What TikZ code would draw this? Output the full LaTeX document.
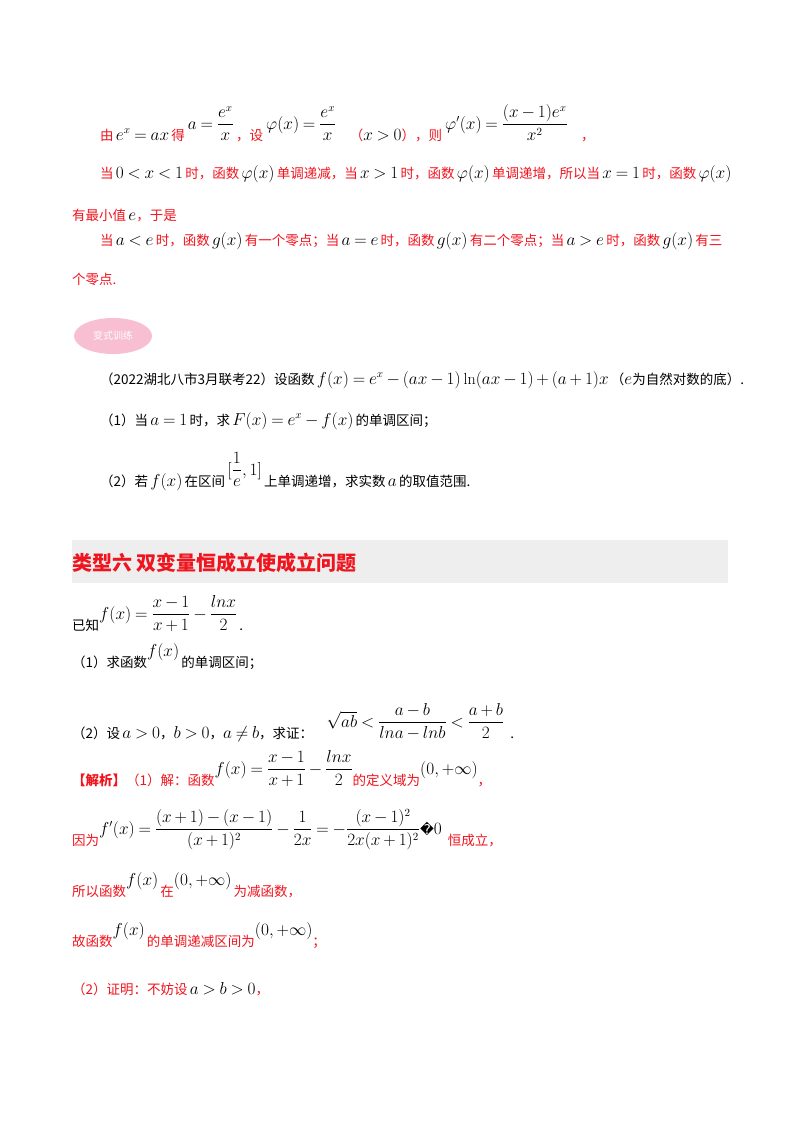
\documentclass[tikz,border=0pt]{standalone}
\usepackage{amsmath}
\usepackage{fontspec}
\usetikzlibrary{shapes.geometric}
\setmainfont{Noto Sans CJK SC}
\newfontfamily\dejavu{DejaVu Sans}
\newfontfamily\lmr{Latin Modern Roman}
\definecolor{redz}{RGB}{240,20,30}
\definecolor{barg}{RGB}{238,238,238}
\definecolor{pinkz}{RGB}{248,190,210}
\newcommand{\R}[1]{\textcolor{redz}{#1}}
\newcommand{\U}[1]{\raisebox{1.5ex}{#1}}
\newcommand{\M}[1]{{\fontsize{16}{18}\selectfont\medmuskip=3mu\thickmuskip=4mu$#1$}}
\newcommand{\lnz}{\mathop{\text{\lmr ln}}\nolimits}
\begin{document}
\begin{tikzpicture}[x=1pt,y=-1pt,
  ln/.style={anchor=base west,inner sep=0pt,font=\fontsize{13.5}{15}\selectfont}]
\useasboundingbox (0,0) rectangle (800,1132);
\fill[white] (0,0) rectangle (800,1132);
\node[ln] (l1) at (100,140) {\R{由}\,\M{e^x=ax}\,\R{得}\ \U{\M{a=\dfrac{e^x}{x}}}\,\R{，设}\ \U{\M{\varphi(x)=\dfrac{e^x}{x}}}\quad\R{（}\M{x>0}\R{），则}\ \U{\M{\varphi'(x)=\dfrac{(x-1)e^x}{x^2}}}\quad\R{，}};
\node[ln] (l2) at (100,178) {\R{当}\,\M{0<x<1}\,\R{时，函数}\,\M{\varphi(x)}\,\R{单调递减，当}\,\M{x>1}\,\R{时，函数}\,\M{\varphi(x)}\,\R{单调递增，所以当}\,\M{x=1}\,\R{时，函数}\,\M{\varphi(x)}};
\node[ln] (l3) at (72,220) {\R{有最小值}\,\M{e}\R{，于是}};
\node[ln] (l4) at (100,245) {\R{当}\,\M{a<e}\,\R{时，函数}\,\M{g(x)}\,\R{有一个零点；当}\,\M{a=e}\,\R{时，函数}\,\M{g(x)}\,\R{有二个零点；当}\,\M{a>e}\,\R{时，函数}\,\M{g(x)}\,\R{有三}};
\node[ln] (l5) at (72,284) {\R{个零点.}};
\node[ellipse,fill=pinkz,minimum width=78,minimum height=36,inner sep=0pt,font=\fontsize{10}{11}\selectfont,text=white] (pk) at (113,336) {变式训练};
\node[ln] (l6) at (100,384) {（2022湖北八市3月联考22）设函数\,\M{f(x)=e^x-(ax-1)\lnz(ax-1)+(a+1)x}\,（\M{e}为自然对数的底）.};
\node[ln] (l7) at (100,425) {（1）当\,\M{a=1}\,时，求\,\M{F(x)=e^x-f(x)}\,的单调区间；};
\node[ln] (l8) at (100,486) {（2）若\,\M{f(x)}\,在区间\,\U{\M{[\dfrac1e,1]}}\,上单调递增，求实数\,\M{a}\,的取值范围.};
\fill[barg] (72,540) rectangle (728,583);
\node[anchor=base west,inner sep=0pt,font=\fontsize{20}{22}\bfseries\selectfont,text=redz] (tt) at (72,570) {类型六\ 双变量恒成立使成立问题};
\node[ln] (l9) at (72,630) {已知\U{\M{f(x)=\dfrac{x-1}{x+1}-\dfrac{lnx}{2}}}\,.};
\node[ln] (l10) at (72,667) {（1）求函数\U{\M{f(x)}}\,的单调区间；};
\node[ln] (l11) at (72,738) {（2）设\,\M{a>0}，\M{b>0}，\M{a\neq b}，求证：\quad\U{\M{\sqrt{ab}<\dfrac{a-b}{lna-lnb}<\dfrac{a+b}{2}}}\ \ .};
\node[ln] (l12) at (72,785) {\R{\textbf{【解析】}（1）解：函数}\U{\M{f(x)=\dfrac{x-1}{x+1}-\dfrac{lnx}{2}}}\R{的定义域为}\U{\M{(0,+\infty)}}\R{，}};
\node[ln] (l13) at (72,845) {\R{因为}\U{\M{f'(x)=\dfrac{(x+1)-(x-1)}{(x+1)^2}-\dfrac{1}{2x}=-\dfrac{(x-1)^2}{2x(x+1)^2}}{\dejavu\char"FFFD}\M{0}}\ \ \R{恒成立，}};
\node[ln] (l14) at (72,896) {\R{所以函数}\U{\M{f(x)}}\,\R{在}\U{\M{(0,+\infty)}}\,\R{为减函数，}};
\node[ln] (l15) at (72,946) {\R{故函数}\U{\M{f(x)}}\,\R{的单调递减区间为}\U{\M{(0,+\infty)}}\R{；}};
\node[ln] (l16) at (72,994) {\R{（2）证明：不妨设}\,\M{a>b>0}\R{，}};
\end{tikzpicture}
\end{document}
